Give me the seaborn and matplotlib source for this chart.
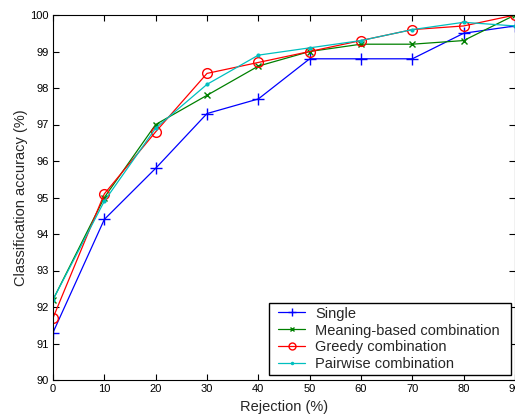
import matplotlib
matplotlib.use("Agg")
import matplotlib.pyplot as plt
from matplotlib.lines import Line2D
from matplotlib.legend_handler import HandlerLine2D
import seaborn as sns
import pandas as pd

rejection = [0, 10, 20, 30, 40, 50, 60, 70, 80, 90]
single = [91.3, 94.4, 95.8, 97.3, 97.7, 98.8, 98.8, 98.8, 99.5, 99.7]
meaning = [92.2, 95.0, 97.0, 97.8, 98.6, 99.0, 99.2, 99.2, 99.3, 100.0]
greedy = [91.7, 95.1, 96.8, 98.4, 98.7, 99.0, 99.3, 99.6, 99.7, 100.0]
pairwise = [92.2, 94.9, 96.9, 98.1, 98.9, 99.1, 99.3, 99.6, 99.8, 99.7]
series_names = ["Single", "Meaning-based combination", "Greedy combination", "Pairwise combination"]
x_ticks = [0, 10, 20, 30, 40, 50, 60, 70, 80, 90]
y_ticks = [90, 91, 92, 93, 94, 95, 96, 97, 98, 99, 100]

sns.set_theme(style="ticks")
plt.rcParams["font.family"] = ["Liberation Sans", "DejaVu Sans"]

rows = []
for name, vals in zip(series_names, [single, meaning, greedy, pairwise]):
    for x, v in zip(rejection, vals):
        rows.append({"Rejection": x, "Accuracy": v, "Method": name})
df = pd.DataFrame(rows)

colors = {"Single": "#0000ff", "Meaning-based combination": "#008000",
          "Greedy combination": "#ff0000", "Pairwise combination": "#00bfbf"}
markers = {"Single": "+", "Meaning-based combination": "x",
           "Greedy combination": "o", "Pairwise combination": "."}
msize = {"Single": 8, "Meaning-based combination": 4.5,
         "Greedy combination": 7, "Pairwise combination": 4}
leg_msize = {"Single": 6, "Meaning-based combination": 3,
             "Greedy combination": 5, "Pairwise combination": 3}

fig = plt.figure(figsize=(5.15, 4.16), dpi=100)
ax = fig.add_axes([53 / 515, 36 / 416, 462 / 515, 365 / 416])

for name in series_names:
    sub = df[df["Method"] == name]
    sns.lineplot(data=sub, x="Rejection", y="Accuracy", ax=ax, color=colors[name],
                 marker=markers[name], markersize=msize[name], linewidth=0.9,
                 markerfacecolor="none" if name == "Greedy combination" else colors[name],
                 markeredgecolor=colors[name], markeredgewidth=1.0,
                 errorbar=None, legend=False)

ax.set_xlim(0, 90)
ax.set_ylim(90, 100)
ax.set_xticks(x_ticks)
ax.set_yticks(y_ticks)
ax.set_xticklabels([str(t) for t in x_ticks], fontsize=8)
ax.set_yticklabels([str(t) for t in y_ticks], fontsize=8)
ax.tick_params(direction="in", top=True, right=True, length=4, width=0.8, pad=3, colors="black")
for s in ax.spines.values():
    s.set_visible(True)
    s.set_color("black")
    s.set_linewidth(0.8)
ax.set_xlabel("Rejection (%)", fontsize=10.5, labelpad=4)
ax.set_ylabel("Classification accuracy (%)", fontsize=10.5, labelpad=2)

handles = [Line2D([], [], color=colors[n], marker=markers[n], markersize=leg_msize[n],
                  linewidth=0.9, markeredgewidth=1.0,
                  markerfacecolor="none" if n == "Greedy combination" else colors[n])
           for n in series_names]
x0 = (269 - 53) / 462
x1 = (511 - 53) / 462
y0 = (380 - 375) / 365
y1 = (380 - 303) / 365
leg = ax.legend(handles, series_names, loc="lower left", fontsize=10.5, frameon=True,
                fancybox=False, edgecolor="black", framealpha=1,
                bbox_to_anchor=(x0, y0, x1 - x0, y1 - y0), mode="expand", borderaxespad=0,
                handlelength=2.22, labelspacing=0.2, borderpad=0.25, handletextpad=0.69,
                handler_map={Line2D: HandlerLine2D(xpad=0.37)})
leg.get_frame().set_linewidth(1.0)

fig.savefig("out.png", dpi=100)
